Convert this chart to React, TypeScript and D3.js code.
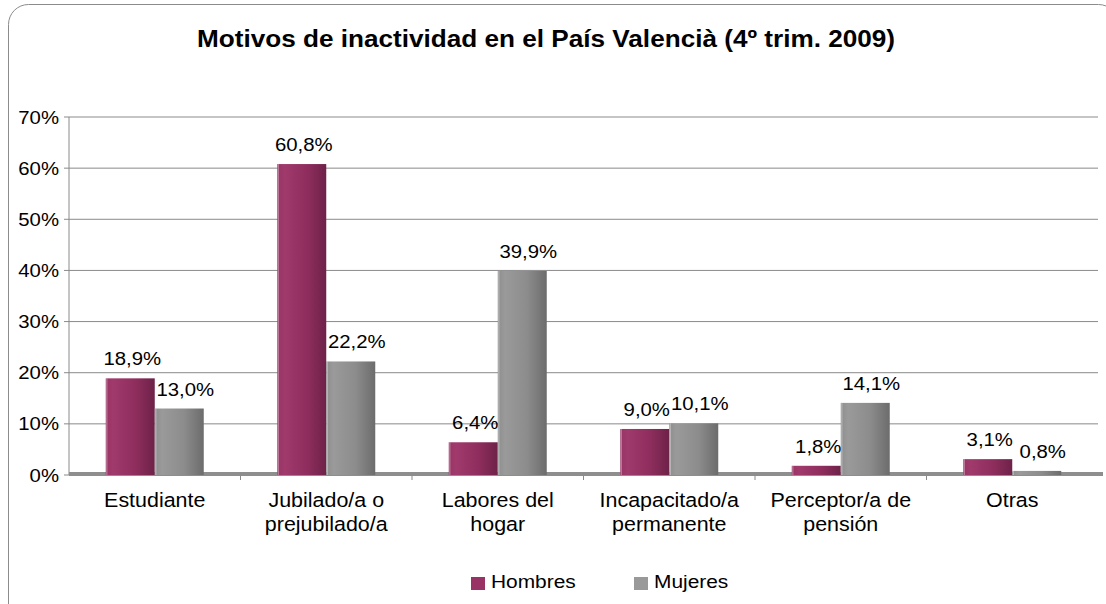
import React from "react";
import * as d3 from "d3";

const categories = [
  ["Estudiante"],
  ["Jubilado/a o", "prejubilado/a"],
  ["Labores del", "hogar"],
  ["Incapacitado/a", "permanente"],
  ["Perceptor/a de", "pensión"],
  ["Otras"],
];
const hombres = [18.9, 60.8, 6.4, 9.0, 1.8, 3.1];
const mujeres = [13.0, 22.2, 39.9, 10.1, 14.1, 0.8];
const yTicks = [0, 10, 20, 30, 40, 50, 60, 70];
const seriesNames = ["Hombres", "Mujeres"];

const W = 1106;
const H = 604;
const left = 69;
const right = 1098;
const top = 117;
const bottom = 475;
const SX = 1.1;

function T({ x, y, size, anchor = "start", bold = false, children }: any) {
  return (
    <g transform={`translate(${x},${y}) scale(${SX},1)`}>
      <text x={0} y={0} textAnchor={anchor} fontSize={size} fontWeight={bold ? "bold" : "normal"} fill="#000">
        {children}
      </text>
    </g>
  );
}

export default function App() {
  const x = d3.scaleBand<number>().domain(d3.range(categories.length)).range([left, right]);
  const y = d3.scaleLinear().domain([0, 70]).range([bottom, top]);
  const bw = x.bandwidth();
  const barW = 49;
  const offset = (bw - 2 * barW) / 2;
  const fmt = (v: number) => v.toFixed(1).replace(".", ",") + "%";
  const font = "'Liberation Sans', Arial, sans-serif";
  const series = [hombres, mujeres];
  const grads = ["gH", "gM"];

  return (
    <svg width={W} height={H} style={{ position: "absolute", left: 0, top: 0, fontFamily: font }}>
      <defs>
        <linearGradient id="gH" x1="0" x2="1" y1="0" y2="0">
          <stop offset="0" stopColor="#983465" />
          <stop offset="0.15" stopColor="#a03a6c" />
          <stop offset="0.6" stopColor="#8f2e5e" />
          <stop offset="1" stopColor="#6e2248" />
        </linearGradient>
        <linearGradient id="gM" x1="0" x2="1" y1="0" y2="0">
          <stop offset="0" stopColor="#8e8e8e" />
          <stop offset="0.15" stopColor="#9a9a9a" />
          <stop offset="0.6" stopColor="#8c8c8c" />
          <stop offset="1" stopColor="#6c6c6c" />
        </linearGradient>
      </defs>
      <rect x={0} y={0} width={W} height={H} fill="#fff" />
      <rect x={8.5} y={4.5} width={1110} height={630} rx={20} ry={20} fill="#fff" stroke="#8c8c8c" strokeWidth={1} />
      <text x={546} y={47} textAnchor="middle" fontSize={23.5} fontWeight="bold" fill="#000" textLength={698} lengthAdjust="spacingAndGlyphs">
        Motivos de inactividad en el País Valencià (4º trim. 2009)
      </text>
      {yTicks.map((t) => (
        <g key={t}>
          {t > 0 && <line x1={left} x2={right} y1={y(t)} y2={y(t)} stroke="#8a8a8a" strokeWidth={1} />}
          <line x1={left - 5} x2={left} y1={y(t)} y2={y(t)} stroke="#8a8a8a" />
          <T x={left - 10} y={y(t) + 6.5} size={18.5} anchor="end">
            {t}%
          </T>
        </g>
      ))}
      <line x1={left} x2={left} y1={top} y2={bottom} stroke="#8a8a8a" />
      <rect x={left} y={bottom - 3} width={right - left + 5} height={4} fill="#8e8e8e" />
      {categories.map((_, i) =>
        i > 0 ? <line key={i} x1={x(i)!} x2={x(i)!} y1={bottom} y2={bottom + 5} stroke="#8a8a8a" /> : null
      )}
      {series.map((vals, s) =>
        vals.map((v, i) => {
          const bx = x(i)! + offset + s * barW;
          const by = y(v);
          return (
            <g key={`${s}-${i}`}>
              <rect x={bx} y={by} width={barW} height={bottom - by} fill={`url(#${grads[s]})`} />
              <rect x={bx + 0.5} y={by} width={1.2} height={bottom - by} fill="#ffffff" opacity={0.35} />
            </g>
          );
        })
      )}
      {series.map((vals, s) =>
        vals.map((v, i) => {
          const bx = x(i)! + offset + s * barW;
          return (
            <T key={`l${s}-${i}`} x={bx + barW / 2 + 2 + s * 4} y={y(v) - 13} size={18.5} anchor="middle">
              {fmt(v)}
            </T>
          );
        })
      )}
      {categories.map((lines, i) =>
        lines.map((l, j) => (
          <T key={`${i}-${j}`} x={x(i)! + bw / 2} y={507 + j * 23.5} size={19.5} anchor="middle">
            {l}
          </T>
        ))
      )}
      {seriesNames.map((n, s) => (
        <g key={n}>
          <rect x={471 + s * 163} y={577} width={14} height={13} fill={s === 0 ? "#993366" : "#999999"} />
          <T x={491 + s * 163} y={588} size={19}>
            {n}
          </T>
        </g>
      ))}
    </svg>
  );
}
